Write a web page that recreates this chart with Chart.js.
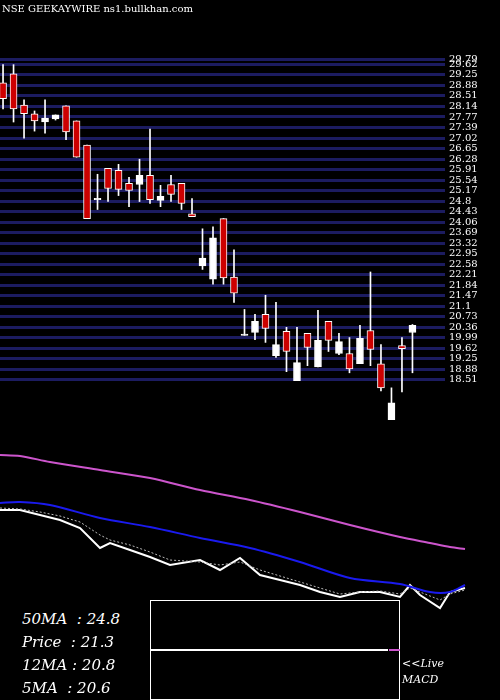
<!DOCTYPE html>
<html>
<head>
<script src="https://cdn.jsdelivr.net/npm/chart.js@4"></script>
<style>
body{margin:0;background:#000;width:500px;height:700px;overflow:hidden;position:relative;font-family:"DejaVu Serif",serif}
canvas{position:absolute;left:0}
.t{position:absolute;color:#fff;font-style:italic;white-space:pre}
</style>
</head>
<body>
<canvas id="main" width="500" height="420" style="top:0"></canvas>
<canvas id="ma" width="500" height="190" style="top:420px"></canvas>
<div style="position:absolute;left:150px;top:600px;width:250px;height:100px;border:1px solid #fff;box-sizing:border-box"></div>
<canvas id="macd" width="250" height="100" style="top:600px;left:150px"></canvas>
<div class="t" style="left:2px;top:3px;font-size:10px;font-style:normal">NSE GEEKAYWIRE ns1.bullkhan.com</div>
<div class="t" style="left:22px;top:610px;font-size:15px">50MA  : 24.8</div>
<div class="t" style="left:22px;top:633px;font-size:15px">Price  : 21.3</div>
<div class="t" style="left:22px;top:656px;font-size:15px">12MA : 20.8</div>
<div class="t" style="left:22px;top:679px;font-size:15px">5MA  : 20.6</div>
<div class="t" style="left:402px;top:657px;font-size:11px">&lt;&lt;Live</div>
<div class="t" style="left:402px;top:673px;font-size:11px">MACD</div>
<script>
// candles: open, high, low, close
const opens  = [28.97,29.29,28.19,27.88,27.59,27.70,28.16,27.63,26.78,24.86,25.96,25.89,25.43,25.39,25.71,24.83,25.39,25.43,24.36,22.52,22.06,24.19,22.13,20.08,20.18,20.82,19.36,20.22,18.48,20.15,18.97,20.57,19.44,19.44,19.08,20.25,19.08,17.09,19.72,20.18];
const highs  = [29.61,29.61,28.37,27.98,28.37,27.84,28.16,27.63,26.78,25.75,25.96,26.10,25.64,26.28,27.34,25.36,25.71,25.43,24.89,23.83,23.90,24.19,23.09,20.99,20.82,21.49,21.24,20.36,20.36,20.15,20.96,20.57,20.15,20.00,20.43,22.31,19.75,18.23,20.00,20.46];
const lows   = [28.05,27.59,27.02,27.27,27.20,27.66,26.97,26.35,25.62,24.51,24.79,25.00,24.61,24.79,24.72,24.61,24.79,24.51,24.26,22.40,21.88,21.88,21.24,20.08,19.93,19.83,19.30,18.80,18.48,19.01,18.97,19.51,19.40,18.76,19.08,19.01,18.12,17.09,18.09,18.76];
const closes = [28.41,28.05,27.88,27.63,27.73,27.84,27.24,26.35,24.19,24.86,25.25,25.22,25.18,25.71,24.86,24.97,25.04,24.72,24.26,22.80,23.51,22.10,21.56,20.08,20.57,20.32,19.75,19.51,19.12,19.65,19.90,19.90,19.86,18.90,19.97,19.58,18.23,17.70,19.61,20.43];
const priceTicks = [29.79,29.62,29.25,28.88,28.51,28.14,27.77,27.39,27.02,26.65,26.28,25.91,25.54,25.17,24.8,24.43,24.06,23.69,23.32,22.95,22.58,22.21,21.84,21.47,21.1,20.73,20.36,19.99,19.62,19.25,18.88,18.51];

// lower panel lines (relative level, higher = up)
const maX      = [0,20,50,100,150,200,250,300,350,400,430,450,465];
const ma50     = [145,144,138,130,122,110,100,88,75,63,57,53,51];
const ma12     = [97,98,95,82,73,62,52,38,22,16,8,8,15];
const priceX   = [0,20,40,60,80,100,110,130,150,170,200,220,240,260,280,300,320,340,360,380,400,410,420,440,450,465];
const priceLn  = [90,90,85,80,72,52,57,50,43,35,40,30,42,25,20,15,8,3,8,8,3,15,5,-8,8,12];
const ma5      = [92,91,88,84,78,65,60,55,48,40,38,35,38,30,24,18,12,6,8,9,6,12,8,0,6,10];

const n = opens.length;
const wicks = [], bodies = [], cols = [];
for (let i = 0; i < n; i++) {
  wicks.push({x: i, y: [lows[i], highs[i]]});
  let lo = Math.min(opens[i], closes[i]), hi = Math.max(opens[i], closes[i]);
  if (hi - lo < 0.04) hi = lo + 0.04;
  bodies.push({x: i, y: [lo, hi]});
  cols.push(closes[i] >= opens[i] ? '#ffffff' : '#cc0000');
}

new Chart(document.getElementById('main'), {
  type: 'bar',
  data: {datasets: [
    {data: wicks, backgroundColor: '#fff', barThickness: 1, grouped: false, order: 2, clip: false},
    {data: bodies, backgroundColor: cols, borderColor: '#fff', borderWidth: 1, borderSkipped: false, barThickness: 7, grouped: false, order: 1, clip: false}
  ]},
  options: {
    responsive: false, animation: false, events: [],
    layout: {padding: {top: 55, bottom: 0, left: 0, right: 0}},
    plugins: {legend: {display: false}, tooltip: {enabled: false}},
    scales: {
      x: {type: 'linear', offset: false, min: -0.29, max: 42.1, display: false},
      y: {
        position: 'right', min: 17.45, max: 29.95,
        afterBuildTicks: s => { s.ticks = priceTicks.map(v => ({value: v})); },
        afterFit: s => { s.width = 55; },
        grid: {color: '#1c1c60', lineWidth: 3, drawTicks: false},
        border: {display: false},
        ticks: {color: '#fff', autoSkip: false, font: {size: 10, family: 'DejaVu Serif'}, padding: 4, callback: v => String(v)}
      }
    }
  }
});

const pts = (xs, ys) => xs.map((x, i) => ({x: x, y: ys[i]}));
new Chart(document.getElementById('ma'), {
  type: 'line',
  data: {datasets: [
    {data: pts(maX, ma50), borderColor: '#cc55cc', borderWidth: 2, pointRadius: 0, tension: 0.3},
    {data: pts(maX, ma12), borderColor: '#1a1aee', borderWidth: 2, pointRadius: 0, tension: 0.3},
    {data: pts(priceX, ma5), borderColor: '#bbbbbb', borderWidth: 1, borderDash: [2, 2], pointRadius: 0},
    {data: pts(priceX, priceLn), borderColor: '#ffffff', borderWidth: 2, pointRadius: 0}
  ]},
  options: {
    responsive: false, animation: false, events: [],
    plugins: {legend: {display: false}, tooltip: {enabled: false}},
    scales: {
      x: {type: 'linear', min: 0, max: 500, display: false},
      y: {min: -10, max: 180, display: false}
    }
  }
});

const macdX = [0, 238, 239, 250];
const macdLine = [0, 0, null, null];
const macdSig = [null, null, 0, 0];
new Chart(document.getElementById('macd'), {
  type: 'line',
  data: {datasets: [
    {data: pts(macdX, macdLine), borderColor: '#fff', borderWidth: 2, pointRadius: 0},
    {data: pts(macdX, macdSig), borderColor: '#cc55cc', borderWidth: 2, pointRadius: 0}
  ]},
  options: {
    responsive: false, animation: false, events: [],
    plugins: {legend: {display: false}, tooltip: {enabled: false}},
    scales: {x: {type: 'linear', min: 0, max: 250, display: false}, y: {min: -1, max: 1, display: false}}
  }
});
</script>
</body>
</html>
